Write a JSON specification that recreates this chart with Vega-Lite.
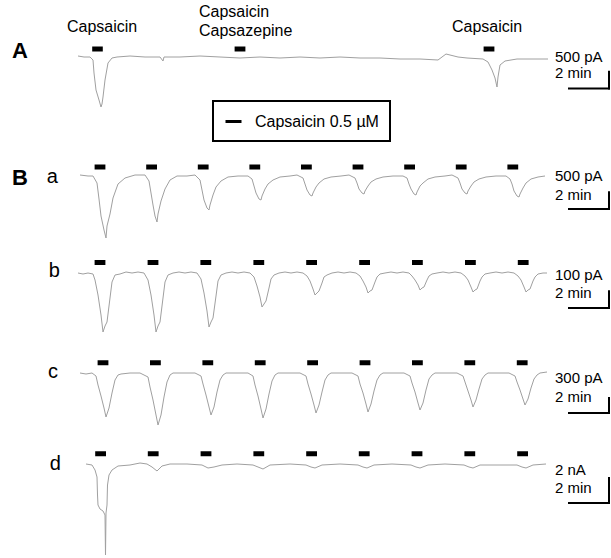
{
"$schema": "https://vega.github.io/schema/vega-lite/v6.json",
"padding": 0,
"background": "white",
"spacing": 0,
"config": {"view": {"stroke": null}, "legend": {"strokeWidth": 2}, "text": {"font": "Liberation Sans"}},
"datasets": {
"traces": [
{"trace":"A","t":0,"pA":30},{"trace":"A","t":0.3,"pA":0},{"trace":"A","t":0.6,"pA":0},{"trace":"A","t":0.75,"pA":-90},{"trace":"A","t":0.8,"pA":-480},{"trace":"A","t":0.9,"pA":-990},{"trace":"A","t":1.05,"pA":-1290},{"trace":"A","t":1.15,"pA":-1500},{"trace":"A","t":1.2,"pA":-1410},{"trace":"A","t":1.25,"pA":-1200},{"trace":"A","t":1.35,"pA":-690},{"trace":"A","t":1.5,"pA":-180},{"trace":"A","t":1.7,"pA":-30},{"trace":"A","t":1.95,"pA":0},{"trace":"A","t":2.6,"pA":30},{"trace":"A","t":3.35,"pA":0},{"trace":"A","t":4.1,"pA":0},{"trace":"A","t":4.25,"pA":-120},{"trace":"A","t":4.3,"pA":0},{"trace":"A","t":5.1,"pA":0},{"trace":"A","t":6.1,"pA":30},{"trace":"A","t":7.1,"pA":0},{"trace":"A","t":8.1,"pA":-30},{"trace":"A","t":9.1,"pA":0},{"trace":"A","t":10.1,"pA":-30},{"trace":"A","t":11.1,"pA":0},{"trace":"A","t":12.1,"pA":-30},{"trace":"A","t":13.1,"pA":0},{"trace":"A","t":14.1,"pA":-30},{"trace":"A","t":15.1,"pA":-30},{"trace":"A","t":16.1,"pA":-60},{"trace":"A","t":17.1,"pA":-60},{"trace":"A","t":18.0,"pA":-90},{"trace":"A","t":18.2,"pA":0},{"trace":"A","t":18.4,"pA":90},{"trace":"A","t":18.6,"pA":60},{"trace":"A","t":19.0,"pA":0},{"trace":"A","t":19.45,"pA":-30},{"trace":"A","t":20.25,"pA":-60},{"trace":"A","t":20.5,"pA":-150},{"trace":"A","t":20.7,"pA":-390},{"trace":"A","t":20.85,"pA":-630},{"trace":"A","t":20.95,"pA":-900},{"trace":"A","t":21.0,"pA":-600},{"trace":"A","t":21.1,"pA":-240},{"trace":"A","t":21.35,"pA":-120},{"trace":"A","t":21.95,"pA":-60},{"trace":"A","t":22.6,"pA":-60},{"trace":"A","t":23.5,"pA":-60},
{"trace":"a","t":0.1,"pA":30},{"trace":"a","t":0.5,"pA":0},{"trace":"a","t":0.75,"pA":0},{"trace":"a","t":0.95,"pA":-210},{"trace":"a","t":1.05,"pA":-690},{"trace":"a","t":1.15,"pA":-1200},{"trace":"a","t":1.3,"pA":-1620},{"trace":"a","t":1.4,"pA":-1860},{"trace":"a","t":1.45,"pA":-1500},{"trace":"a","t":1.6,"pA":-1140},{"trace":"a","t":1.75,"pA":-660},{"trace":"a","t":2.0,"pA":-240},{"trace":"a","t":2.35,"pA":-60},{"trace":"a","t":2.85,"pA":30},{"trace":"a","t":3.2,"pA":30},
{"trace":"a","t":3.35,"pA":30},{"trace":"a","t":3.55,"pA":-150},{"trace":"a","t":3.65,"pA":-510},{"trace":"a","t":3.75,"pA":-870},{"trace":"a","t":3.85,"pA":-1200},{"trace":"a","t":3.95,"pA":-1380},{"trace":"a","t":4.0,"pA":-1140},{"trace":"a","t":4.15,"pA":-750},{"trace":"a","t":4.35,"pA":-390},{"trace":"a","t":4.6,"pA":-120},{"trace":"a","t":4.95,"pA":0},{"trace":"a","t":5.45,"pA":0},{"trace":"a","t":5.85,"pA":30},
{"trace":"a","t":5.9,"pA":0},{"trace":"a","t":6.1,"pA":-120},{"trace":"a","t":6.2,"pA":-420},{"trace":"a","t":6.3,"pA":-720},{"trace":"a","t":6.45,"pA":-960},{"trace":"a","t":6.55,"pA":-1020},{"trace":"a","t":6.6,"pA":-870},{"trace":"a","t":6.75,"pA":-570},{"trace":"a","t":6.9,"pA":-330},{"trace":"a","t":7.15,"pA":-150},{"trace":"a","t":7.5,"pA":-30},{"trace":"a","t":8.0,"pA":0},{"trace":"a","t":8.4,"pA":0},
{"trace":"a","t":8.5,"pA":0},{"trace":"a","t":8.7,"pA":-90},{"trace":"a","t":8.8,"pA":-300},{"trace":"a","t":8.9,"pA":-510},{"trace":"a","t":9.05,"pA":-690},{"trace":"a","t":9.15,"pA":-720},{"trace":"a","t":9.2,"pA":-600},{"trace":"a","t":9.35,"pA":-390},{"trace":"a","t":9.5,"pA":-240},{"trace":"a","t":9.75,"pA":-120},{"trace":"a","t":10.1,"pA":-30},{"trace":"a","t":10.6,"pA":0},{"trace":"a","t":10.95,"pA":30},
{"trace":"a","t":11.05,"pA":0},{"trace":"a","t":11.25,"pA":-60},{"trace":"a","t":11.35,"pA":-240},{"trace":"a","t":11.45,"pA":-420},{"trace":"a","t":11.6,"pA":-570},{"trace":"a","t":11.7,"pA":-600},{"trace":"a","t":11.75,"pA":-510},{"trace":"a","t":11.9,"pA":-330},{"trace":"a","t":12.05,"pA":-210},{"trace":"a","t":12.3,"pA":-90},{"trace":"a","t":12.65,"pA":-30},{"trace":"a","t":13.15,"pA":0},{"trace":"a","t":13.55,"pA":30},
{"trace":"a","t":13.65,"pA":0},{"trace":"a","t":13.85,"pA":-60},{"trace":"a","t":13.95,"pA":-210},{"trace":"a","t":14.05,"pA":-390},{"trace":"a","t":14.2,"pA":-510},{"trace":"a","t":14.3,"pA":-540},{"trace":"a","t":14.35,"pA":-450},{"trace":"a","t":14.5,"pA":-300},{"trace":"a","t":14.65,"pA":-180},{"trace":"a","t":14.9,"pA":-90},{"trace":"a","t":15.25,"pA":-30},{"trace":"a","t":15.75,"pA":0},{"trace":"a","t":16.1,"pA":0},
{"trace":"a","t":16.25,"pA":0},{"trace":"a","t":16.45,"pA":-60},{"trace":"a","t":16.55,"pA":-240},{"trace":"a","t":16.65,"pA":-390},{"trace":"a","t":16.8,"pA":-540},{"trace":"a","t":16.9,"pA":-570},{"trace":"a","t":16.95,"pA":-480},{"trace":"a","t":17.1,"pA":-300},{"trace":"a","t":17.25,"pA":-210},{"trace":"a","t":17.5,"pA":-90},{"trace":"a","t":17.85,"pA":-30},{"trace":"a","t":18.35,"pA":0},{"trace":"a","t":18.7,"pA":30},
{"trace":"a","t":18.8,"pA":0},{"trace":"a","t":19.0,"pA":-60},{"trace":"a","t":19.1,"pA":-210},{"trace":"a","t":19.2,"pA":-390},{"trace":"a","t":19.35,"pA":-510},{"trace":"a","t":19.45,"pA":-540},{"trace":"a","t":19.5,"pA":-450},{"trace":"a","t":19.65,"pA":-300},{"trace":"a","t":19.8,"pA":-180},{"trace":"a","t":20.05,"pA":-90},{"trace":"a","t":20.4,"pA":-30},{"trace":"a","t":20.9,"pA":0},{"trace":"a","t":21.25,"pA":0},
{"trace":"a","t":21.4,"pA":0},{"trace":"a","t":21.6,"pA":-90},{"trace":"a","t":21.7,"pA":-240},{"trace":"a","t":21.8,"pA":-450},{"trace":"a","t":21.95,"pA":-600},{"trace":"a","t":22.05,"pA":-630},{"trace":"a","t":22.1,"pA":-540},{"trace":"a","t":22.25,"pA":-360},{"trace":"a","t":22.4,"pA":-210},{"trace":"a","t":22.65,"pA":-90},{"trace":"a","t":23.0,"pA":-30},{"trace":"a","t":23.35,"pA":0},
{"trace":"b","t":0,"pA":6},{"trace":"b","t":0.25,"pA":0},{"trace":"b","t":0.5,"pA":6},{"trace":"b","t":0.75,"pA":0},{"trace":"b","t":0.85,"pA":-36},{"trace":"b","t":1.0,"pA":-126},{"trace":"b","t":1.15,"pA":-246},{"trace":"b","t":1.25,"pA":-348},{"trace":"b","t":1.35,"pA":-312},{"trace":"b","t":1.45,"pA":-288},{"trace":"b","t":1.6,"pA":-144},{"trace":"b","t":1.7,"pA":-48},{"trace":"b","t":1.85,"pA":-6},{"trace":"b","t":2.1,"pA":0},{"trace":"b","t":2.4,"pA":12},{"trace":"b","t":2.7,"pA":6},{"trace":"b","t":3.0,"pA":12},{"trace":"b","t":3.3,"pA":6},
{"trace":"b","t":3.5,"pA":-36},{"trace":"b","t":3.65,"pA":-126},{"trace":"b","t":3.8,"pA":-246},{"trace":"b","t":3.9,"pA":-348},{"trace":"b","t":4.0,"pA":-312},{"trace":"b","t":4.1,"pA":-288},{"trace":"b","t":4.25,"pA":-144},{"trace":"b","t":4.35,"pA":-48},{"trace":"b","t":4.5,"pA":-6},{"trace":"b","t":4.75,"pA":6},{"trace":"b","t":5.05,"pA":12},{"trace":"b","t":5.35,"pA":6},{"trace":"b","t":5.65,"pA":12},{"trace":"b","t":5.95,"pA":6},
{"trace":"b","t":6.15,"pA":-30},{"trace":"b","t":6.3,"pA":-114},{"trace":"b","t":6.45,"pA":-222},{"trace":"b","t":6.55,"pA":-318},{"trace":"b","t":6.65,"pA":-288},{"trace":"b","t":6.75,"pA":-264},{"trace":"b","t":6.9,"pA":-132},{"trace":"b","t":7.0,"pA":-42},{"trace":"b","t":7.15,"pA":-6},{"trace":"b","t":7.4,"pA":6},{"trace":"b","t":7.7,"pA":12},{"trace":"b","t":8.0,"pA":6},{"trace":"b","t":8.3,"pA":12},{"trace":"b","t":8.6,"pA":6},
{"trace":"b","t":8.8,"pA":-18},{"trace":"b","t":8.95,"pA":-72},{"trace":"b","t":9.1,"pA":-138},{"trace":"b","t":9.2,"pA":-198},{"trace":"b","t":9.3,"pA":-180},{"trace":"b","t":9.4,"pA":-162},{"trace":"b","t":9.55,"pA":-84},{"trace":"b","t":9.65,"pA":-30},{"trace":"b","t":9.8,"pA":-6},{"trace":"b","t":10.05,"pA":6},{"trace":"b","t":10.35,"pA":12},{"trace":"b","t":10.65,"pA":6},{"trace":"b","t":10.95,"pA":12},{"trace":"b","t":11.25,"pA":6},
{"trace":"b","t":11.45,"pA":-12},{"trace":"b","t":11.6,"pA":-42},{"trace":"b","t":11.75,"pA":-90},{"trace":"b","t":11.85,"pA":-126},{"trace":"b","t":11.95,"pA":-114},{"trace":"b","t":12.05,"pA":-102},{"trace":"b","t":12.2,"pA":-54},{"trace":"b","t":12.3,"pA":-18},{"trace":"b","t":12.45,"pA":-6},{"trace":"b","t":12.7,"pA":6},{"trace":"b","t":13.0,"pA":12},{"trace":"b","t":13.3,"pA":6},{"trace":"b","t":13.6,"pA":12},{"trace":"b","t":13.9,"pA":6},
{"trace":"b","t":14.1,"pA":-12},{"trace":"b","t":14.25,"pA":-42},{"trace":"b","t":14.4,"pA":-78},{"trace":"b","t":14.5,"pA":-114},{"trace":"b","t":14.6,"pA":-102},{"trace":"b","t":14.7,"pA":-96},{"trace":"b","t":14.85,"pA":-48},{"trace":"b","t":14.95,"pA":-18},{"trace":"b","t":15.1,"pA":0},{"trace":"b","t":15.35,"pA":6},{"trace":"b","t":15.65,"pA":12},{"trace":"b","t":15.95,"pA":6},{"trace":"b","t":16.25,"pA":12},{"trace":"b","t":16.55,"pA":6},
{"trace":"b","t":16.7,"pA":-12},{"trace":"b","t":16.85,"pA":-36},{"trace":"b","t":17.0,"pA":-66},{"trace":"b","t":17.1,"pA":-96},{"trace":"b","t":17.2,"pA":-84},{"trace":"b","t":17.3,"pA":-78},{"trace":"b","t":17.45,"pA":-36},{"trace":"b","t":17.55,"pA":-12},{"trace":"b","t":17.7,"pA":0},{"trace":"b","t":17.95,"pA":6},{"trace":"b","t":18.25,"pA":12},{"trace":"b","t":18.55,"pA":6},{"trace":"b","t":18.85,"pA":12},{"trace":"b","t":19.15,"pA":6},
{"trace":"b","t":19.35,"pA":-12},{"trace":"b","t":19.5,"pA":-36},{"trace":"b","t":19.65,"pA":-78},{"trace":"b","t":19.75,"pA":-108},{"trace":"b","t":19.85,"pA":-96},{"trace":"b","t":19.95,"pA":-90},{"trace":"b","t":20.1,"pA":-42},{"trace":"b","t":20.2,"pA":-18},{"trace":"b","t":20.35,"pA":0},{"trace":"b","t":20.6,"pA":6},{"trace":"b","t":20.9,"pA":12},{"trace":"b","t":21.2,"pA":6},{"trace":"b","t":21.5,"pA":12},{"trace":"b","t":21.8,"pA":6},
{"trace":"b","t":22.0,"pA":-12},{"trace":"b","t":22.15,"pA":-36},{"trace":"b","t":22.3,"pA":-78},{"trace":"b","t":22.4,"pA":-108},{"trace":"b","t":22.5,"pA":-96},{"trace":"b","t":22.6,"pA":-90},{"trace":"b","t":22.75,"pA":-42},{"trace":"b","t":22.85,"pA":-18},{"trace":"b","t":23.0,"pA":0},{"trace":"b","t":23.25,"pA":6},{"trace":"b","t":23.45,"pA":6},
{"trace":"c","t":0.1,"pA":20},{"trace":"c","t":0.4,"pA":0},{"trace":"c","t":0.7,"pA":20},{"trace":"c","t":0.9,"pA":-40},{"trace":"c","t":1.0,"pA":-220},{"trace":"c","t":1.15,"pA":-440},{"trace":"c","t":1.3,"pA":-680},{"trace":"c","t":1.4,"pA":-860},{"trace":"c","t":1.55,"pA":-680},{"trace":"c","t":1.7,"pA":-380},{"trace":"c","t":1.85,"pA":-120},{"trace":"c","t":2.0,"pA":-20},{"trace":"c","t":2.15,"pA":0},{"trace":"c","t":2.6,"pA":20},{"trace":"c","t":3.1,"pA":20},
{"trace":"c","t":3.5,"pA":-60},{"trace":"c","t":3.6,"pA":-260},{"trace":"c","t":3.75,"pA":-520},{"trace":"c","t":3.9,"pA":-820},{"trace":"c","t":4.0,"pA":-1020},{"trace":"c","t":4.15,"pA":-820},{"trace":"c","t":4.3,"pA":-460},{"trace":"c","t":4.45,"pA":-160},{"trace":"c","t":4.6,"pA":-20},{"trace":"c","t":4.75,"pA":20},{"trace":"c","t":5.35,"pA":20},{"trace":"c","t":5.85,"pA":20},
{"trace":"c","t":6.15,"pA":-40},{"trace":"c","t":6.25,"pA":-200},{"trace":"c","t":6.4,"pA":-420},{"trace":"c","t":6.55,"pA":-660},{"trace":"c","t":6.65,"pA":-820},{"trace":"c","t":6.8,"pA":-660},{"trace":"c","t":6.95,"pA":-360},{"trace":"c","t":7.1,"pA":-120},{"trace":"c","t":7.25,"pA":-20},{"trace":"c","t":7.4,"pA":20},{"trace":"c","t":8.0,"pA":20},{"trace":"c","t":8.5,"pA":20},
{"trace":"c","t":8.75,"pA":-40},{"trace":"c","t":8.85,"pA":-220},{"trace":"c","t":9.0,"pA":-440},{"trace":"c","t":9.15,"pA":-700},{"trace":"c","t":9.25,"pA":-880},{"trace":"c","t":9.4,"pA":-700},{"trace":"c","t":9.55,"pA":-400},{"trace":"c","t":9.7,"pA":-140},{"trace":"c","t":9.85,"pA":-20},{"trace":"c","t":10.0,"pA":20},{"trace":"c","t":10.6,"pA":20},{"trace":"c","t":11.1,"pA":20},
{"trace":"c","t":11.4,"pA":-40},{"trace":"c","t":11.5,"pA":-200},{"trace":"c","t":11.65,"pA":-400},{"trace":"c","t":11.8,"pA":-620},{"trace":"c","t":11.9,"pA":-780},{"trace":"c","t":12.05,"pA":-620},{"trace":"c","t":12.2,"pA":-360},{"trace":"c","t":12.35,"pA":-120},{"trace":"c","t":12.5,"pA":-20},{"trace":"c","t":12.65,"pA":20},{"trace":"c","t":13.25,"pA":20},{"trace":"c","t":13.7,"pA":20},
{"trace":"c","t":14.0,"pA":-40},{"trace":"c","t":14.1,"pA":-200},{"trace":"c","t":14.25,"pA":-380},{"trace":"c","t":14.4,"pA":-600},{"trace":"c","t":14.5,"pA":-760},{"trace":"c","t":14.65,"pA":-600},{"trace":"c","t":14.8,"pA":-340},{"trace":"c","t":14.95,"pA":-120},{"trace":"c","t":15.1,"pA":-20},{"trace":"c","t":15.25,"pA":20},{"trace":"c","t":15.85,"pA":20},{"trace":"c","t":16.3,"pA":20},
{"trace":"c","t":16.6,"pA":-40},{"trace":"c","t":16.7,"pA":-180},{"trace":"c","t":16.85,"pA":-360},{"trace":"c","t":17.0,"pA":-580},{"trace":"c","t":17.1,"pA":-720},{"trace":"c","t":17.25,"pA":-580},{"trace":"c","t":17.4,"pA":-320},{"trace":"c","t":17.55,"pA":-100},{"trace":"c","t":17.7,"pA":-20},{"trace":"c","t":17.85,"pA":20},{"trace":"c","t":18.45,"pA":20},{"trace":"c","t":18.95,"pA":20},
{"trace":"c","t":19.25,"pA":-40},{"trace":"c","t":19.35,"pA":-160},{"trace":"c","t":19.5,"pA":-340},{"trace":"c","t":19.65,"pA":-520},{"trace":"c","t":19.75,"pA":-660},{"trace":"c","t":19.9,"pA":-520},{"trace":"c","t":20.05,"pA":-300},{"trace":"c","t":20.2,"pA":-100},{"trace":"c","t":20.35,"pA":-20},{"trace":"c","t":20.5,"pA":20},{"trace":"c","t":21.1,"pA":20},{"trace":"c","t":21.55,"pA":20},
{"trace":"c","t":21.85,"pA":-40},{"trace":"c","t":21.95,"pA":-160},{"trace":"c","t":22.1,"pA":-320},{"trace":"c","t":22.25,"pA":-500},{"trace":"c","t":22.35,"pA":-620},{"trace":"c","t":22.5,"pA":-500},{"trace":"c","t":22.65,"pA":-280},{"trace":"c","t":22.8,"pA":-100},{"trace":"c","t":22.95,"pA":-20},{"trace":"c","t":23.1,"pA":20},{"trace":"c","t":23.45,"pA":40},
{"trace":"d","t":0.4,"pA":80},{"trace":"d","t":0.7,"pA":0},{"trace":"d","t":0.85,"pA":-400},{"trace":"d","t":0.95,"pA":-960},{"trace":"d","t":0.975,"pA":-2400},{"trace":"d","t":1.0,"pA":-3200},{"trace":"d","t":1.1,"pA":-3520},{"trace":"d","t":1.25,"pA":-3680},{"trace":"d","t":1.35,"pA":-4000},{"trace":"d","t":1.375,"pA":-7200},{"trace":"d","t":1.4,"pA":-3840},{"trace":"d","t":1.45,"pA":-3200},{"trace":"d","t":1.475,"pA":-1600},{"trace":"d","t":1.55,"pA":-800},{"trace":"d","t":1.7,"pA":-400},{"trace":"d","t":2.0,"pA":-80},{"trace":"d","t":2.6,"pA":0},{"trace":"d","t":3.1,"pA":160},
{"trace":"d","t":3.45,"pA":80},{"trace":"d","t":3.7,"pA":-160},{"trace":"d","t":3.95,"pA":-480},{"trace":"d","t":4.2,"pA":-80},{"trace":"d","t":4.6,"pA":80},{"trace":"d","t":5.45,"pA":80},{"trace":"d","t":6.2,"pA":0},{"trace":"d","t":6.5,"pA":-240},{"trace":"d","t":6.8,"pA":-160},{"trace":"d","t":7.2,"pA":0},{"trace":"d","t":7.95,"pA":80},{"trace":"d","t":8.75,"pA":0},{"trace":"d","t":9.0,"pA":-160},{"trace":"d","t":9.25,"pA":-320},{"trace":"d","t":9.6,"pA":0},{"trace":"d","t":10.6,"pA":80},
{"trace":"d","t":11.4,"pA":0},{"trace":"d","t":11.65,"pA":-160},{"trace":"d","t":11.85,"pA":-240},{"trace":"d","t":12.2,"pA":0},{"trace":"d","t":13.1,"pA":80},{"trace":"d","t":14.0,"pA":0},{"trace":"d","t":14.25,"pA":-160},{"trace":"d","t":14.45,"pA":-240},{"trace":"d","t":14.8,"pA":0},{"trace":"d","t":15.7,"pA":80},{"trace":"d","t":16.65,"pA":0},{"trace":"d","t":16.9,"pA":-160},{"trace":"d","t":17.1,"pA":-240},{"trace":"d","t":17.5,"pA":0},{"trace":"d","t":18.35,"pA":80},
{"trace":"d","t":19.3,"pA":0},{"trace":"d","t":19.55,"pA":-160},{"trace":"d","t":19.75,"pA":-240},{"trace":"d","t":20.1,"pA":0},{"trace":"d","t":20.95,"pA":0},{"trace":"d","t":21.95,"pA":0},{"trace":"d","t":22.2,"pA":-160},{"trace":"d","t":22.4,"pA":-240},{"trace":"d","t":22.75,"pA":0},{"trace":"d","t":23.4,"pA":80}
],
"applications": [
{"trace":"A","start":0.71,"end":1.24,"agent":"Capsaicin 0.5 µM"},{"trace":"A","start":7.83,"end":8.37,"agent":"Capsaicin 0.5 µM"},{"trace":"A","start":20.28,"end":20.82,"agent":"Capsaicin 0.5 µM"},
{"trace":"a","start":0.83,"end":1.37},{"trace":"a","start":3.41,"end":3.95},{"trace":"a","start":5.99,"end":6.53},{"trace":"a","start":8.57,"end":9.11},{"trace":"a","start":11.15,"end":11.69},{"trace":"a","start":13.73,"end":14.27},{"trace":"a","start":16.31,"end":16.85},{"trace":"a","start":18.89,"end":19.43},{"trace":"a","start":21.47,"end":22.01},
{"trace":"b","start":0.83,"end":1.37},{"trace":"b","start":3.48,"end":4.02},{"trace":"b","start":6.12,"end":6.66},{"trace":"b","start":8.77,"end":9.31},{"trace":"b","start":11.41,"end":11.95},{"trace":"b","start":14.06,"end":14.6},{"trace":"b","start":16.7,"end":17.24},{"trace":"b","start":19.35,"end":19.89},{"trace":"b","start":21.99,"end":22.53},
{"trace":"c","start":0.98,"end":1.52},{"trace":"c","start":3.6,"end":4.14},{"trace":"c","start":6.22,"end":6.76},{"trace":"c","start":8.84,"end":9.38},{"trace":"c","start":11.46,"end":12.0},{"trace":"c","start":14.08,"end":14.62},{"trace":"c","start":16.7,"end":17.24},{"trace":"c","start":19.32,"end":19.86},{"trace":"c","start":21.94,"end":22.48},
{"trace":"d","start":0.86,"end":1.4},{"trace":"d","start":3.49,"end":4.03},{"trace":"d","start":6.13,"end":6.67},{"trace":"d","start":8.77,"end":9.31},{"trace":"d","start":11.41,"end":11.95},{"trace":"d","start":14.04,"end":14.58},{"trace":"d","start":16.68,"end":17.22},{"trace":"d","start":19.32,"end":19.86},{"trace":"d","start":21.96,"end":22.5}
],
"scalebars": [
{"trace":"A","t":24.55,"t2":26.55,"pA":-945,"pA2":-945},{"trace":"A","t":26.55,"t2":26.55,"pA":-945,"pA2":-445},
{"trace":"a","t":24.55,"t2":26.55,"pA":-990,"pA2":-990},{"trace":"a","t":26.55,"t2":26.55,"pA":-990,"pA2":-490},
{"trace":"b","t":24.55,"t2":26.55,"pA":-204,"pA2":-204},{"trace":"b","t":26.55,"t2":26.55,"pA":-204,"pA2":-104},
{"trace":"c","t":24.55,"t2":26.55,"pA":-780,"pA2":-780},{"trace":"c","t":26.55,"t2":26.55,"pA":-780,"pA2":-480},
{"trace":"d","t":24.55,"t2":26.55,"pA":-3040,"pA2":-3040},{"trace":"d","t":26.55,"t2":26.55,"pA":-3040,"pA2":-1040}
],
"scaletext": [
{"trace":"A","t":23.85,"pA":-150,"label":"500 pA"},{"trace":"A","t":23.85,"pA":-630,"label":"2 min"},
{"trace":"a","t":23.85,"pA":-150,"label":"500 pA"},{"trace":"a","t":23.85,"pA":-720,"label":"2 min"},
{"trace":"b","t":23.85,"pA":-36,"label":"100 pA"},{"trace":"b","t":23.85,"pA":-144,"label":"2 min"},
{"trace":"c","t":23.85,"pA":-180,"label":"300 pA"},{"trace":"c","t":23.85,"pA":-560,"label":"2 min"},
{"trace":"d","t":23.85,"pA":-800,"label":"2 nA"},{"trace":"d","t":23.85,"pA":-2240,"label":"2 min"}
],
"panellabels": [
{"trace":"A","level":"main","t":-2.9,"pA":-30,"label":"A"},
{"trace":"a","level":"main","t":-2.9,"pA":-270,"label":"B"},
{"trace":"a","level":"sub","t":-1.28,"pA":-210,"label":"a"},
{"trace":"b","level":"sub","t":-1.18,"pA":-16,"label":"b"},
{"trace":"c","level":"sub","t":-1.25,"pA":-80,"label":"c"},
{"trace":"d","level":"sub","t":-1.13,"pA":-400,"label":"d"}
],
"conditions": [
{"trace":"A","t":-0.55,"pA":750,"label":"Capsaicin"},
{"trace":"A","t":6.05,"pA":1200,"label":"Capsaicin"},
{"trace":"A","t":6.05,"pA":630,"label":"Capsazepine"},
{"trace":"A","t":18.7,"pA":750,"label":"Capsaicin"}
]
},
"vconcat": [
{
"width": 611, "height": 150,
"layer": [
{"data": {"name": "traces"}, "transform": [{"filter": "datum.trace === 'A'"}], "mark": {"type": "line", "color": "#a0a0a0", "strokeWidth": 1},
 "encoding": {"x": {"field": "t", "type": "quantitative", "scale": {"domain": [-3.9, 26.65], "nice": false, "zero": false}, "axis": null},
 "y": {"field": "pA", "type": "quantitative", "scale": {"domain": [-2790, 1710], "nice": false, "zero": false}, "axis": null}}},
{"data": {"name": "applications"}, "transform": [{"filter": "datum.trace === 'A'"}], "mark": {"type": "rule", "strokeWidth": 5, "strokeCap": "butt"},
 "encoding": {"x": {"field": "start", "type": "quantitative"}, "x2": {"field": "end"}, "y": {"datum": 240},
 "color": {"field": "agent", "type": "nominal", "scale": {"range": ["#000000"]},
  "legend": {"orient": "none", "legendX": 213, "legendY": 101, "title": null, "strokeColor": "#000000", "padding": 11, "symbolType": "stroke", "symbolSize": 256, "symbolStrokeWidth": 3, "labelFontSize": 16, "labelFont": "Liberation Sans", "labelColor": "#000000", "labelOffset": 12}}}},
{"data": {"name": "scalebars"}, "transform": [{"filter": "datum.trace === 'A'"}], "mark": {"type": "rule", "strokeWidth": 2, "color": "#000000", "strokeCap": "square"},
 "encoding": {"x": {"field": "t", "type": "quantitative"}, "x2": {"field": "t2"}, "y": {"field": "pA", "type": "quantitative"}, "y2": {"field": "pA2"}}},
{"data": {"name": "scaletext"}, "transform": [{"filter": "datum.trace === 'A'"}], "mark": {"type": "text", "align": "left", "baseline": "alphabetic", "fontSize": 15, "color": "#000000"},
 "encoding": {"x": {"field": "t", "type": "quantitative"}, "y": {"field": "pA", "type": "quantitative"}, "text": {"field": "label"}}},
{"data": {"name": "conditions"}, "mark": {"type": "text", "align": "left", "baseline": "alphabetic", "fontSize": 16, "color": "#000000"},
 "encoding": {"x": {"field": "t", "type": "quantitative"}, "y": {"field": "pA", "type": "quantitative"}, "text": {"field": "label"}}},
{"data": {"name": "panellabels"}, "transform": [{"filter": "datum.trace === 'A'"}], "mark": {"type": "text", "align": "center", "baseline": "alphabetic", "fontSize": 22, "fontWeight": "bold", "color": "#000000"},
 "encoding": {"x": {"field": "t", "type": "quantitative"}, "y": {"field": "pA", "type": "quantitative"}, "text": {"field": "label"}}}
]
},
{
"width": 611, "height": 90,
"layer": [
{"data": {"name": "traces"}, "transform": [{"filter": "datum.trace === 'a'"}], "mark": {"type": "line", "color": "#a0a0a0", "strokeWidth": 1},
 "encoding": {"x": {"field": "t", "type": "quantitative", "scale": {"domain": [-3.9, 26.65], "nice": false, "zero": false}, "axis": null},
 "y": {"field": "pA", "type": "quantitative", "scale": {"domain": [-1920, 780], "nice": false, "zero": false}, "axis": null}}},
{"data": {"name": "applications"}, "transform": [{"filter": "datum.trace === 'a'"}], "mark": {"type": "rule", "strokeWidth": 5, "strokeCap": "butt", "color": "#000000"},
 "encoding": {"x": {"field": "start", "type": "quantitative"}, "x2": {"field": "end"}, "y": {"datum": 270}}},
{"data": {"name": "scalebars"}, "transform": [{"filter": "datum.trace === 'a'"}], "mark": {"type": "rule", "strokeWidth": 2, "color": "#000000", "strokeCap": "square"},
 "encoding": {"x": {"field": "t", "type": "quantitative"}, "x2": {"field": "t2"}, "y": {"field": "pA", "type": "quantitative"}, "y2": {"field": "pA2"}}},
{"data": {"name": "scaletext"}, "transform": [{"filter": "datum.trace === 'a'"}], "mark": {"type": "text", "align": "left", "baseline": "alphabetic", "fontSize": 15, "color": "#000000"},
 "encoding": {"x": {"field": "t", "type": "quantitative"}, "y": {"field": "pA", "type": "quantitative"}, "text": {"field": "label"}}},
{"data": {"name": "panellabels"}, "transform": [{"filter": "datum.trace === 'a' && datum.level === 'main'"}], "mark": {"type": "text", "align": "center", "baseline": "alphabetic", "fontSize": 22, "fontWeight": "bold", "color": "#000000"},
 "encoding": {"x": {"field": "t", "type": "quantitative"}, "y": {"field": "pA", "type": "quantitative"}, "text": {"field": "label"}}},
{"data": {"name": "panellabels"}, "transform": [{"filter": "datum.trace === 'a' && datum.level === 'sub'"}], "mark": {"type": "text", "align": "center", "baseline": "alphabetic", "fontSize": 20, "color": "#000000"},
 "encoding": {"x": {"field": "t", "type": "quantitative"}, "y": {"field": "pA", "type": "quantitative"}, "text": {"field": "label"}}}
]
},
{
"width": 611, "height": 95,
"layer": [
{"data": {"name": "traces"}, "transform": [{"filter": "datum.trace === 'b'"}], "mark": {"type": "line", "color": "#a0a0a0", "strokeWidth": 1},
 "encoding": {"x": {"field": "t", "type": "quantitative", "scale": {"domain": [-3.9, 26.65], "nice": false, "zero": false}, "axis": null},
 "y": {"field": "pA", "type": "quantitative", "scale": {"domain": [-366, 204], "nice": false, "zero": false}, "axis": null}}},
{"data": {"name": "applications"}, "transform": [{"filter": "datum.trace === 'b'"}], "mark": {"type": "rule", "strokeWidth": 5, "strokeCap": "butt", "color": "#000000"},
 "encoding": {"x": {"field": "start", "type": "quantitative"}, "x2": {"field": "end"}, "y": {"datum": 69}}},
{"data": {"name": "scalebars"}, "transform": [{"filter": "datum.trace === 'b'"}], "mark": {"type": "rule", "strokeWidth": 2, "color": "#000000", "strokeCap": "square"},
 "encoding": {"x": {"field": "t", "type": "quantitative"}, "x2": {"field": "t2"}, "y": {"field": "pA", "type": "quantitative"}, "y2": {"field": "pA2"}}},
{"data": {"name": "scaletext"}, "transform": [{"filter": "datum.trace === 'b'"}], "mark": {"type": "text", "align": "left", "baseline": "alphabetic", "fontSize": 15, "color": "#000000"},
 "encoding": {"x": {"field": "t", "type": "quantitative"}, "y": {"field": "pA", "type": "quantitative"}, "text": {"field": "label"}}},
{"data": {"name": "panellabels"}, "transform": [{"filter": "datum.trace === 'b'"}], "mark": {"type": "text", "align": "center", "baseline": "alphabetic", "fontSize": 20, "color": "#000000"},
 "encoding": {"x": {"field": "t", "type": "quantitative"}, "y": {"field": "pA", "type": "quantitative"}, "text": {"field": "label"}}}
]
},
{
"width": 611, "height": 97,
"layer": [
{"data": {"name": "traces"}, "transform": [{"filter": "datum.trace === 'c'"}], "mark": {"type": "line", "color": "#a0a0a0", "strokeWidth": 1},
 "encoding": {"x": {"field": "t", "type": "quantitative", "scale": {"domain": [-3.9, 26.65], "nice": false, "zero": false}, "axis": null},
 "y": {"field": "pA", "type": "quantitative", "scale": {"domain": [-1160, 780], "nice": false, "zero": false}, "axis": null}}},
{"data": {"name": "applications"}, "transform": [{"filter": "datum.trace === 'c'"}], "mark": {"type": "rule", "strokeWidth": 5, "strokeCap": "butt", "color": "#000000"},
 "encoding": {"x": {"field": "start", "type": "quantitative"}, "x2": {"field": "end"}, "y": {"datum": 225}}},
{"data": {"name": "scalebars"}, "transform": [{"filter": "datum.trace === 'c'"}], "mark": {"type": "rule", "strokeWidth": 2, "color": "#000000", "strokeCap": "square"},
 "encoding": {"x": {"field": "t", "type": "quantitative"}, "x2": {"field": "t2"}, "y": {"field": "pA", "type": "quantitative"}, "y2": {"field": "pA2"}}},
{"data": {"name": "scaletext"}, "transform": [{"filter": "datum.trace === 'c'"}], "mark": {"type": "text", "align": "left", "baseline": "alphabetic", "fontSize": 15, "color": "#000000"},
 "encoding": {"x": {"field": "t", "type": "quantitative"}, "y": {"field": "pA", "type": "quantitative"}, "text": {"field": "label"}}},
{"data": {"name": "panellabels"}, "transform": [{"filter": "datum.trace === 'c'"}], "mark": {"type": "text", "align": "center", "baseline": "alphabetic", "fontSize": 20, "color": "#000000"},
 "encoding": {"x": {"field": "t", "type": "quantitative"}, "y": {"field": "pA", "type": "quantitative"}, "text": {"field": "label"}}}
]
},
{
"width": 611, "height": 126,
"layer": [
{"data": {"name": "traces"}, "transform": [{"filter": "datum.trace === 'd'"}], "mark": {"type": "line", "color": "#a0a0a0", "strokeWidth": 1},
 "encoding": {"x": {"field": "t", "type": "quantitative", "scale": {"domain": [-3.9, 26.65], "nice": false, "zero": false}, "axis": null},
 "y": {"field": "pA", "type": "quantitative", "scale": {"domain": [-7440, 2640], "nice": false, "zero": false}, "axis": null}}},
{"data": {"name": "applications"}, "transform": [{"filter": "datum.trace === 'd'"}], "mark": {"type": "rule", "strokeWidth": 5, "strokeCap": "butt", "color": "#000000"},
 "encoding": {"x": {"field": "start", "type": "quantitative"}, "x2": {"field": "end"}, "y": {"datum": 900}}},
{"data": {"name": "scalebars"}, "transform": [{"filter": "datum.trace === 'd'"}], "mark": {"type": "rule", "strokeWidth": 2, "color": "#000000", "strokeCap": "square"},
 "encoding": {"x": {"field": "t", "type": "quantitative"}, "x2": {"field": "t2"}, "y": {"field": "pA", "type": "quantitative"}, "y2": {"field": "pA2"}}},
{"data": {"name": "scaletext"}, "transform": [{"filter": "datum.trace === 'd'"}], "mark": {"type": "text", "align": "left", "baseline": "alphabetic", "fontSize": 15, "color": "#000000"},
 "encoding": {"x": {"field": "t", "type": "quantitative"}, "y": {"field": "pA", "type": "quantitative"}, "text": {"field": "label"}}},
{"data": {"name": "panellabels"}, "transform": [{"filter": "datum.trace === 'd'"}], "mark": {"type": "text", "align": "center", "baseline": "alphabetic", "fontSize": 20, "color": "#000000"},
 "encoding": {"x": {"field": "t", "type": "quantitative"}, "y": {"field": "pA", "type": "quantitative"}, "text": {"field": "label"}}}
]
}
],
"resolve": {"scale": {"x": "independent", "y": "independent", "color": "independent"}, "legend": {"color": "independent"}}
}
